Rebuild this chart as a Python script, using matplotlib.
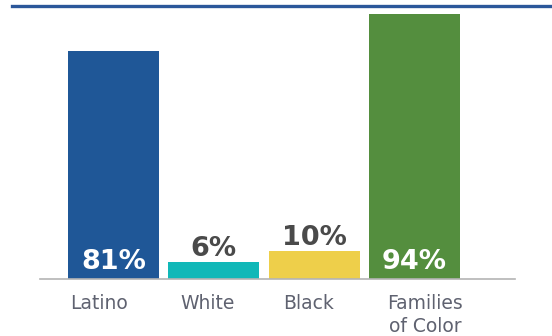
import matplotlib
matplotlib.use("Agg")
import matplotlib.pyplot as plt
from matplotlib.lines import Line2D
from matplotlib.transforms import blended_transform_factory

categories = ["Latino", "White", "Black", "Families\nof Color"]
values = [81, 6, 10, 94]
colors = ["#1f5797", "#10b8b8", "#eecf4a", "#548e3e"]
inside = [True, False, False, True]

# horizontal nudges of the category captions (in bar units)
label_shift = [-0.14, -0.06, -0.055, 0.105]

W, H = 552, 336
PT = 0.72  # points per pixel at 100 dpi
fig = plt.figure(figsize=(W / 100, H / 100), dpi=100)

# axes placed in pixel terms: x 40..515, y from baseline 279 up to 14
left, right, bottom_px, top_px = 40, 515, 279, 14
ax = fig.add_axes([left / W, (H - bottom_px) / H, (right - left) / W, (bottom_px - top_px) / H])

x = list(range(len(categories)))
ax.bar(x, values, width=0.907, color=colors, zorder=2)
ax.set_xlim(-0.733, 4.002)
ax.set_ylim(0, 94)

for xi, v, inn in zip(x, values, inside):
    if inn:
        ax.annotate(f"{v}%", (xi, 0), xytext=(0, 10 * PT), textcoords="offset points",
                    ha="center", va="baseline", fontsize=19.5, fontweight="bold",
                    color="white", zorder=3)
    else:
        ax.annotate(f"{v}%", (xi, v), xytext=(0, 6 * PT), textcoords="offset points",
                    ha="center", va="baseline", fontsize=19.5, fontweight="bold",
                    color="#4a4a4a", zorder=3)

for s in ["top", "right", "left"]:
    ax.spines[s].set_visible(False)
ax.spines["bottom"].set_color("#b4b4b4")
ax.spines["bottom"].set_linewidth(1.2)
ax.set_yticks([])
ax.set_xticks([])

trans = blended_transform_factory(ax.transData, ax.transAxes)
for xi, cat, dx in zip(x, categories, label_shift):
    for i, line in enumerate(cat.split("\n")):
        ax.annotate(line, (xi + dx, 0), xycoords=trans,
                    xytext=(0, -(30 + 22.5 * i) * PT), textcoords="offset points",
                    ha="center", va="baseline", fontsize=13.5, color="#5f6270",
                    annotation_clip=False)

# rule across the top
fig.add_artist(Line2D([12 / W, 1.0], [(H - 5.5) / H] * 2, color="#2b579a",
                      linewidth=2.4, transform=fig.transFigure))

fig.savefig("out.png", dpi=100)
